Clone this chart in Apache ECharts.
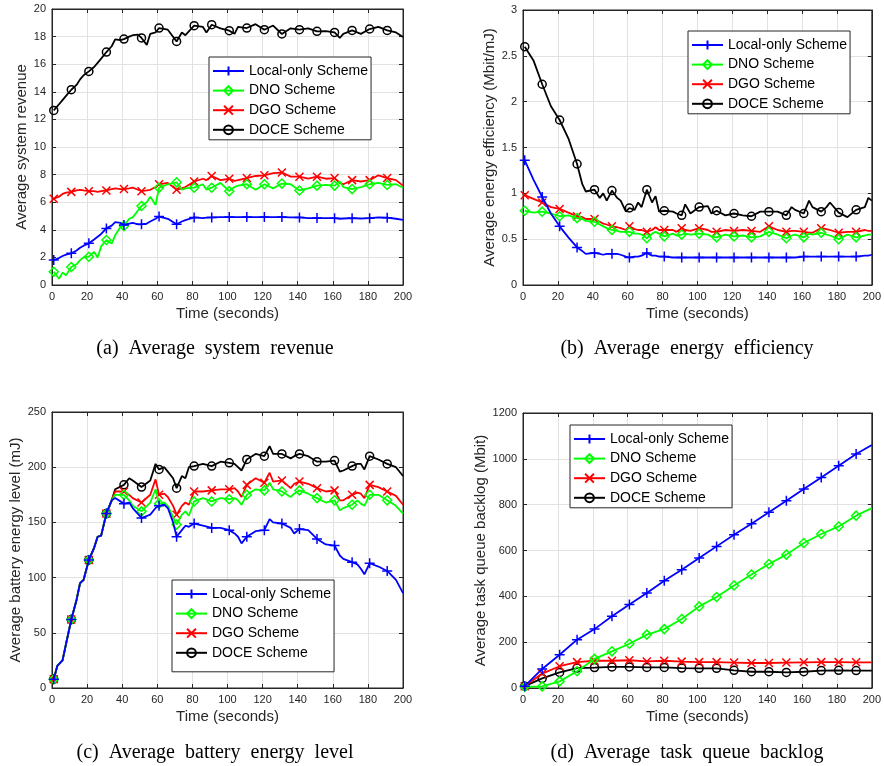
<!DOCTYPE html>
<html>
<head>
<meta charset="utf-8">
<script src="https://cdn.jsdelivr.net/npm/echarts@6/dist/echarts.min.js"></script>
<style>
  html, body { margin: 0; padding: 0; background: #fff; }
  #chart { width: 884px; height: 766px; }
</style>
</head>
<body>
<div id="chart"></div>
<script>
const schemes = ['Local-only Scheme', 'DNO Scheme', 'DGO Scheme', 'DOCE Scheme']

// (a) average system revenue
const timeA = [1,4,6,8, 11,14,16,18, 21,24,26,28, 31,34,36,39, 41,44,46,49, 51,54,56,59, 61,66, 71,74,76, 81,86,88, 91,96, 101,104,106, 111,116, 121,126, 131,136, 141,146, 151,156, 161,164,166, 171,176, 181,186, 191,196, 200]
const localA = [1.81,1.95,2.1,2.2, 2.3,2.5,2.7,2.85, 3.02,3.3,3.5,3.7, 4.1,4.3,4.55,4.5, 4.35,4.45,4.5,4.4, 4.4,4.45,4.6,4.8, 4.96,4.8, 4.4,4.6,4.7, 4.9,4.85,4.88, 4.9,4.92, 4.92,4.92,4.92, 4.92,4.92, 4.92,4.92, 4.92,4.9, 4.9,4.85, 4.85,4.85, 4.84,4.8,4.82, 4.84,4.82, 4.84,4.9, 4.88,4.8, 4.72]
const dnoA = [0.96,0.45,0.9,0.7, 1.3,1.5,1.8,2.0, 2.05,2.4,2.0,2.8, 3.26,3.0,3.6,4.2, 4.27,4.8,4.9,5.4, 5.72,6.0,6.4,5.8, 7.05,7.3, 7.44,6.9,7.0, 7.05,7.3,6.9, 7.05,7.4, 6.8,7.1,7.2, 7.3,6.9, 7.3,7.0, 7.35,7.3, 6.85,7.0, 7.2,7.25, 7.2,7.5,7.1, 6.95,7.1, 7.3,7.4, 7.25,7.3, 7.05]
const dgoA = [6.25,6.4,6.6,6.7, 6.75,6.85,6.9,6.85, 6.8,6.8,6.75,6.8, 6.85,6.95,7.0,6.95, 6.95,7.0,7.05,6.9, 6.8,6.85,6.9,7.1, 7.3,7.4, 6.9,7.0,7.1, 7.5,7.7,7.6, 7.9,7.6, 7.7,7.55,7.6, 7.75,7.9, 7.95,8.1, 8.15,7.85, 7.85,7.7, 7.85,7.7, 7.75,7.4,7.3, 7.6,7.5, 7.6,7.95, 7.75,7.6, 7.2]
const doceA = [12.65,13.1,13.4,13.7, 14.15,14.5,14.9,15.2, 15.48,15.8,16.1,16.4, 16.88,17.3,17.8,17.75, 17.82,18.0,18.1,18.15, 17.9,17.4,18.2,18.3, 18.62,18.5, 17.65,18.3,18.1, 18.79,18.7,18.3, 18.86,18.6, 18.43,18.2,18.7, 18.62,18.9, 18.5,18.8, 18.19,18.6, 18.5,18.6, 18.38,18.4, 18.3,17.9,18.2, 18.45,18.2, 18.55,18.7, 18.45,18.3, 17.97]

// (b) average energy efficiency
const timeB = [1,6,11,16, 21,26,31,34, 36,41,44,46, 48,51,54,56, 59,61,64,66, 68,71,74,76, 78,81,86,88, 91,93,96,101, 106,108,111,116, 121,126,131,136, 141,146,151,154, 156,161,164,166, 171,174,176,181, 186,191,196,198, 200]
const localB = [1.36,1.15,0.96,0.78, 0.64,0.52,0.41,0.37, 0.34,0.35,0.34,0.33, 0.34,0.34,0.34,0.33, 0.31,0.3,0.31,0.31, 0.32,0.35,0.32,0.32, 0.31,0.31,0.3,0.3, 0.3,0.3,0.3,0.3, 0.3,0.3,0.3,0.3, 0.3,0.3,0.3,0.3, 0.3,0.3,0.3,0.3, 0.3,0.31,0.31,0.31, 0.31,0.31,0.31,0.31, 0.31,0.31,0.32,0.32, 0.33]
const dnoB = [0.81,0.79,0.8,0.78, 0.75,0.76,0.73,0.72, 0.7,0.69,0.66,0.64, 0.62,0.6,0.59,0.58, 0.58,0.58,0.56,0.56, 0.55,0.51,0.56,0.58, 0.56,0.53,0.56,0.54, 0.55,0.56,0.55,0.56, 0.55,0.53,0.52,0.55, 0.53,0.54,0.52,0.53, 0.58,0.55,0.51,0.54, 0.55,0.52,0.56,0.55, 0.57,0.55,0.54,0.5, 0.55,0.52,0.54,0.55, 0.55]
const dgoB = [0.98,0.94,0.9,0.85, 0.83,0.79,0.75,0.74, 0.72,0.72,0.69,0.67, 0.66,0.64,0.63,0.62, 0.6,0.64,0.61,0.6, 0.6,0.58,0.6,0.63, 0.6,0.6,0.6,0.58, 0.62,0.6,0.59,0.62, 0.6,0.58,0.58,0.6, 0.59,0.6,0.59,0.58, 0.64,0.6,0.58,0.59, 0.59,0.58,0.57,0.57, 0.62,0.61,0.6,0.57, 0.58,0.58,0.6,0.59, 0.59]
const doceB = [2.6,2.45,2.19,1.95, 1.8,1.6,1.32,1.1, 1.02,1.04,0.95,1.0, 0.92,1.03,0.95,0.92, 0.8,0.84,0.82,0.9, 0.85,1.04,0.9,0.97, 0.8,0.81,0.8,0.78, 0.76,0.88,0.78,0.85, 0.86,0.78,0.81,0.76, 0.78,0.76,0.75,0.8, 0.8,0.8,0.76,0.85, 0.82,0.78,0.92,0.85, 0.8,0.85,0.9,0.79, 0.74,0.82,0.85,0.95, 0.92]

// (c) average battery energy level
const timeC = [1,3,6,8, 11,14,16,18, 21,24,26,28, 31,34, 36,41,44,46, 51,56,59,61, 64,66,69,71, 74,76,78,81, 86,91,96,101, 104,106,108,111, 116,121,124,126, 131,136,138,141, 146,151,156,161, 164,166,171,174, 176,178,181,186, 191,196,200]
const localC = [8,20,25,40, 62,80,95,98, 116,127,137,138, 158,170, 172,167,168,163, 154,157,163,165, 166,163,150,137, 143,147,146,149, 147,145,145,143, 140,137,131,137, 142,143,153,150, 149,145,140,144, 143,135,130,129, 120,117,114,112, 108,103,113,110, 106,98,86]
const dnoC = [8,20,25,40, 62,80,95,98, 116,127,137,138, 158,170, 175,175,170,165, 160,168,180,167, 168,165,155,148, 157,160,156,169, 172,169,172,171, 172,170,166,175, 180,179,186,180, 178,173,176,179, 176,172,168,170, 161,163,166,170, 167,165,175,175, 170,165,158]
const dgoC = [8,20,25,40, 62,80,95,98, 116,127,137,138, 158,170, 178,178,175,172, 168,175,189,175, 176,173,165,157, 165,168,166,178, 178,179,180,180, 181,178,173,184, 190,186,195,187, 188,181,185,187, 185,181,178,179, 170,170,175,177, 176,172,184,182, 178,174,166]
const doceC = [8,20,25,40, 62,80,95,98, 116,127,137,138, 158,170, 180,184,190,188, 182,188,203,198, 200,196,190,181, 192,190,200,201, 203,201,205,204, 203,200,197,207, 212,210,219,212, 212,208,210,212, 210,205,205,206, 196,197,201,203, 203,198,210,207, 203,200,192]

// (d) average task queue backlog
const timeD = [1,11,21,31,41,51,61,71,81,91,101,111,121,131,141,151,161,171,181,191,200]
const localD = [8,83,145,211,257,313,364,415,468,516,567,618,669,717,767,817,868,919,970,1021,1060]
const dnoD = [5,7,29,73,127,160,193,233,257,301,356,397,447,495,541,582,633,672,705,752,785]
const dgoD = [8,63,95,113,119,119,121,116,119,115,113,113,111,109,109,111,112,113,113,112,112]
const doceD = [8,42,68,87,89,92,92,90,90,87,86,86,77,71,71,68,71,76,77,76,76]

const colors = ['#0000ff', '#00ff00', '#ff0000', '#000000']
const symbols = [
  'path://M0,-10L0,10M-10,0L10,0',
  'diamond',
  'path://M-10,-10L10,10M-10,10L10,-10',
  'circle',
]
const symbolSizes = [10, 9, 8, 8]

const panels = [
  { grid: { left: 52, top: 9, width: 351, height: 276 }, ymax: 20, step: 2, yname: 'Average system revenue', ygap: 23,
    legend: { left: 209, top: 57 }, lpad: [7, 3, 3, 3], time: timeA, ys: [localA, dnoA, dgoA, doceA],
    caption: '(a)  Average  system  revenue', cx: 215, cy: 349 },
  { grid: { left: 523, top: 10, width: 352, height: 275 }, ymax: 3, step: 0.5, yname: 'Average energy efficiency (Mbit/mJ)', ygap: 25,
    legend: { left: 688, top: 31 }, lpad: [7, 3, 3, 3], time: timeB, ys: [localB, dnoB, dgoB, doceB],
    caption: '(b)  Average  energy  efficiency', cx: 687, cy: 349 },
  { grid: { left: 52, top: 412, width: 351, height: 276 }, ymax: 250, step: 50, yname: 'Average battery energy level (mJ)', ygap: 29,
    legend: { left: 172, top: 580 }, lpad: [7, 3, 12, 3], time: timeC, ys: [localC, dnoC, dgoC, doceC],
    caption: '(c)  Average  battery  energy  level', cx: 215, cy: 753 },
  { grid: { left: 523, top: 413, width: 352, height: 275 }, ymax: 1200, step: 200, yname: 'Average task queue backlog (Mbit)', ygap: 32,
    legend: { left: 570, top: 425 }, lpad: [7, 3, 3, 3], time: timeD, ys: [localD, dnoD, dgoD, doceD],
    caption: '(d)  Average  task  queue  backlog', cx: 687, cy: 753 },
]

const axisColor = '#262626'
const font = 'Liberation Sans'
const isMarker = (t) => (t - 1) % 10 === 0 && t < 200

const grids = [], xAxes = [], yAxes = [], series = [], legends = [], texts = []
panels.forEach((p, i) => {
  grids.push(Object.assign({ show: true, borderColor: axisColor, borderWidth: 1 }, p.grid))
  const tick = { inside: true, length: 4, lineStyle: { color: axisColor } }
  xAxes.push({
    gridIndex: i, type: 'value', min: 0, max: 200, interval: 20,
    name: 'Time (seconds)', nameLocation: 'middle', nameGap: 21,
    nameTextStyle: { fontSize: 15, color: axisColor, fontFamily: font },
    axisLine: { onZero: false, lineStyle: { color: axisColor } },
    axisTick: tick,
    axisLabel: { fontSize: 11, color: axisColor, fontFamily: font, margin: 6 },
    splitLine: { lineStyle: { color: '#e2e2e2' } },
  })
  xAxes.push({
    gridIndex: i, type: 'value', min: 0, max: 200, interval: 20, position: 'top',
    axisLine: { onZero: false, lineStyle: { color: axisColor } },
    axisTick: tick, axisLabel: { show: false }, splitLine: { show: false },
  })
  yAxes.push({
    gridIndex: i, type: 'value', min: 0, max: p.ymax, interval: p.step,
    name: p.yname, nameLocation: 'middle', nameGap: p.ygap,
    nameTextStyle: { fontSize: 15, color: axisColor, fontFamily: font },
    axisLine: { show: true, onZero: false, lineStyle: { color: axisColor } },
    axisTick: { show: true, inside: true, length: 4, lineStyle: { color: axisColor } },
    axisLabel: { fontSize: 11, color: axisColor, fontFamily: font, margin: 6, formatter: (v) => String(v) },
    splitLine: { lineStyle: { color: '#e2e2e2' } },
  })
  yAxes.push({
    gridIndex: i, type: 'value', min: 0, max: p.ymax, interval: p.step, position: 'right',
    axisLine: { show: true, onZero: false, lineStyle: { color: axisColor } },
    axisTick: { show: true, inside: true, length: 4, lineStyle: { color: axisColor } },
    axisLabel: { show: false }, splitLine: { show: false },
  })
  p.ys.forEach((ys, k) => {
    series.push({
      name: schemes[k], type: 'line', xAxisIndex: i * 2, yAxisIndex: i * 2,
      data: p.time.map((t, j) => [t, ys[j]]),
      symbol: symbols[k],
      symbolSize: (v) => (isMarker(v[0]) ? symbolSizes[k] : 0),
      showAllSymbol: true,
      lineStyle: { color: colors[k], width: 1.8 },
      itemStyle: { color: 'rgba(255,255,255,0)', borderColor: colors[k], borderWidth: 1.5 },
      emphasis: { disabled: true },
      animation: false,
      z: 10 - k,
    })
  })
  legends.push({
    left: p.legend.left, top: p.legend.top, orient: 'vertical',
    data: schemes, selectedMode: false,
    backgroundColor: '#fff', borderColor: axisColor, borderWidth: 1,
    padding: p.lpad, itemGap: 5.6, itemWidth: 31, itemHeight: 11,
    textStyle: { fontSize: 14, color: '#000', fontFamily: font },
  })
  texts.push({
    type: 'text', x: p.cx, y: p.cy,
    style: { text: p.caption, fill: '#000', font: '20px "Liberation Serif"', textAlign: 'center', textVerticalAlign: 'middle' },
  })
})

const chart = echarts.init(document.getElementById('chart'))
chart.setOption({
  backgroundColor: '#fff',
  animation: false,
  grid: grids,
  xAxis: xAxes,
  yAxis: yAxes,
  legend: legends,
  series: series,
  graphic: texts,
})
</script>
</body>
</html>
